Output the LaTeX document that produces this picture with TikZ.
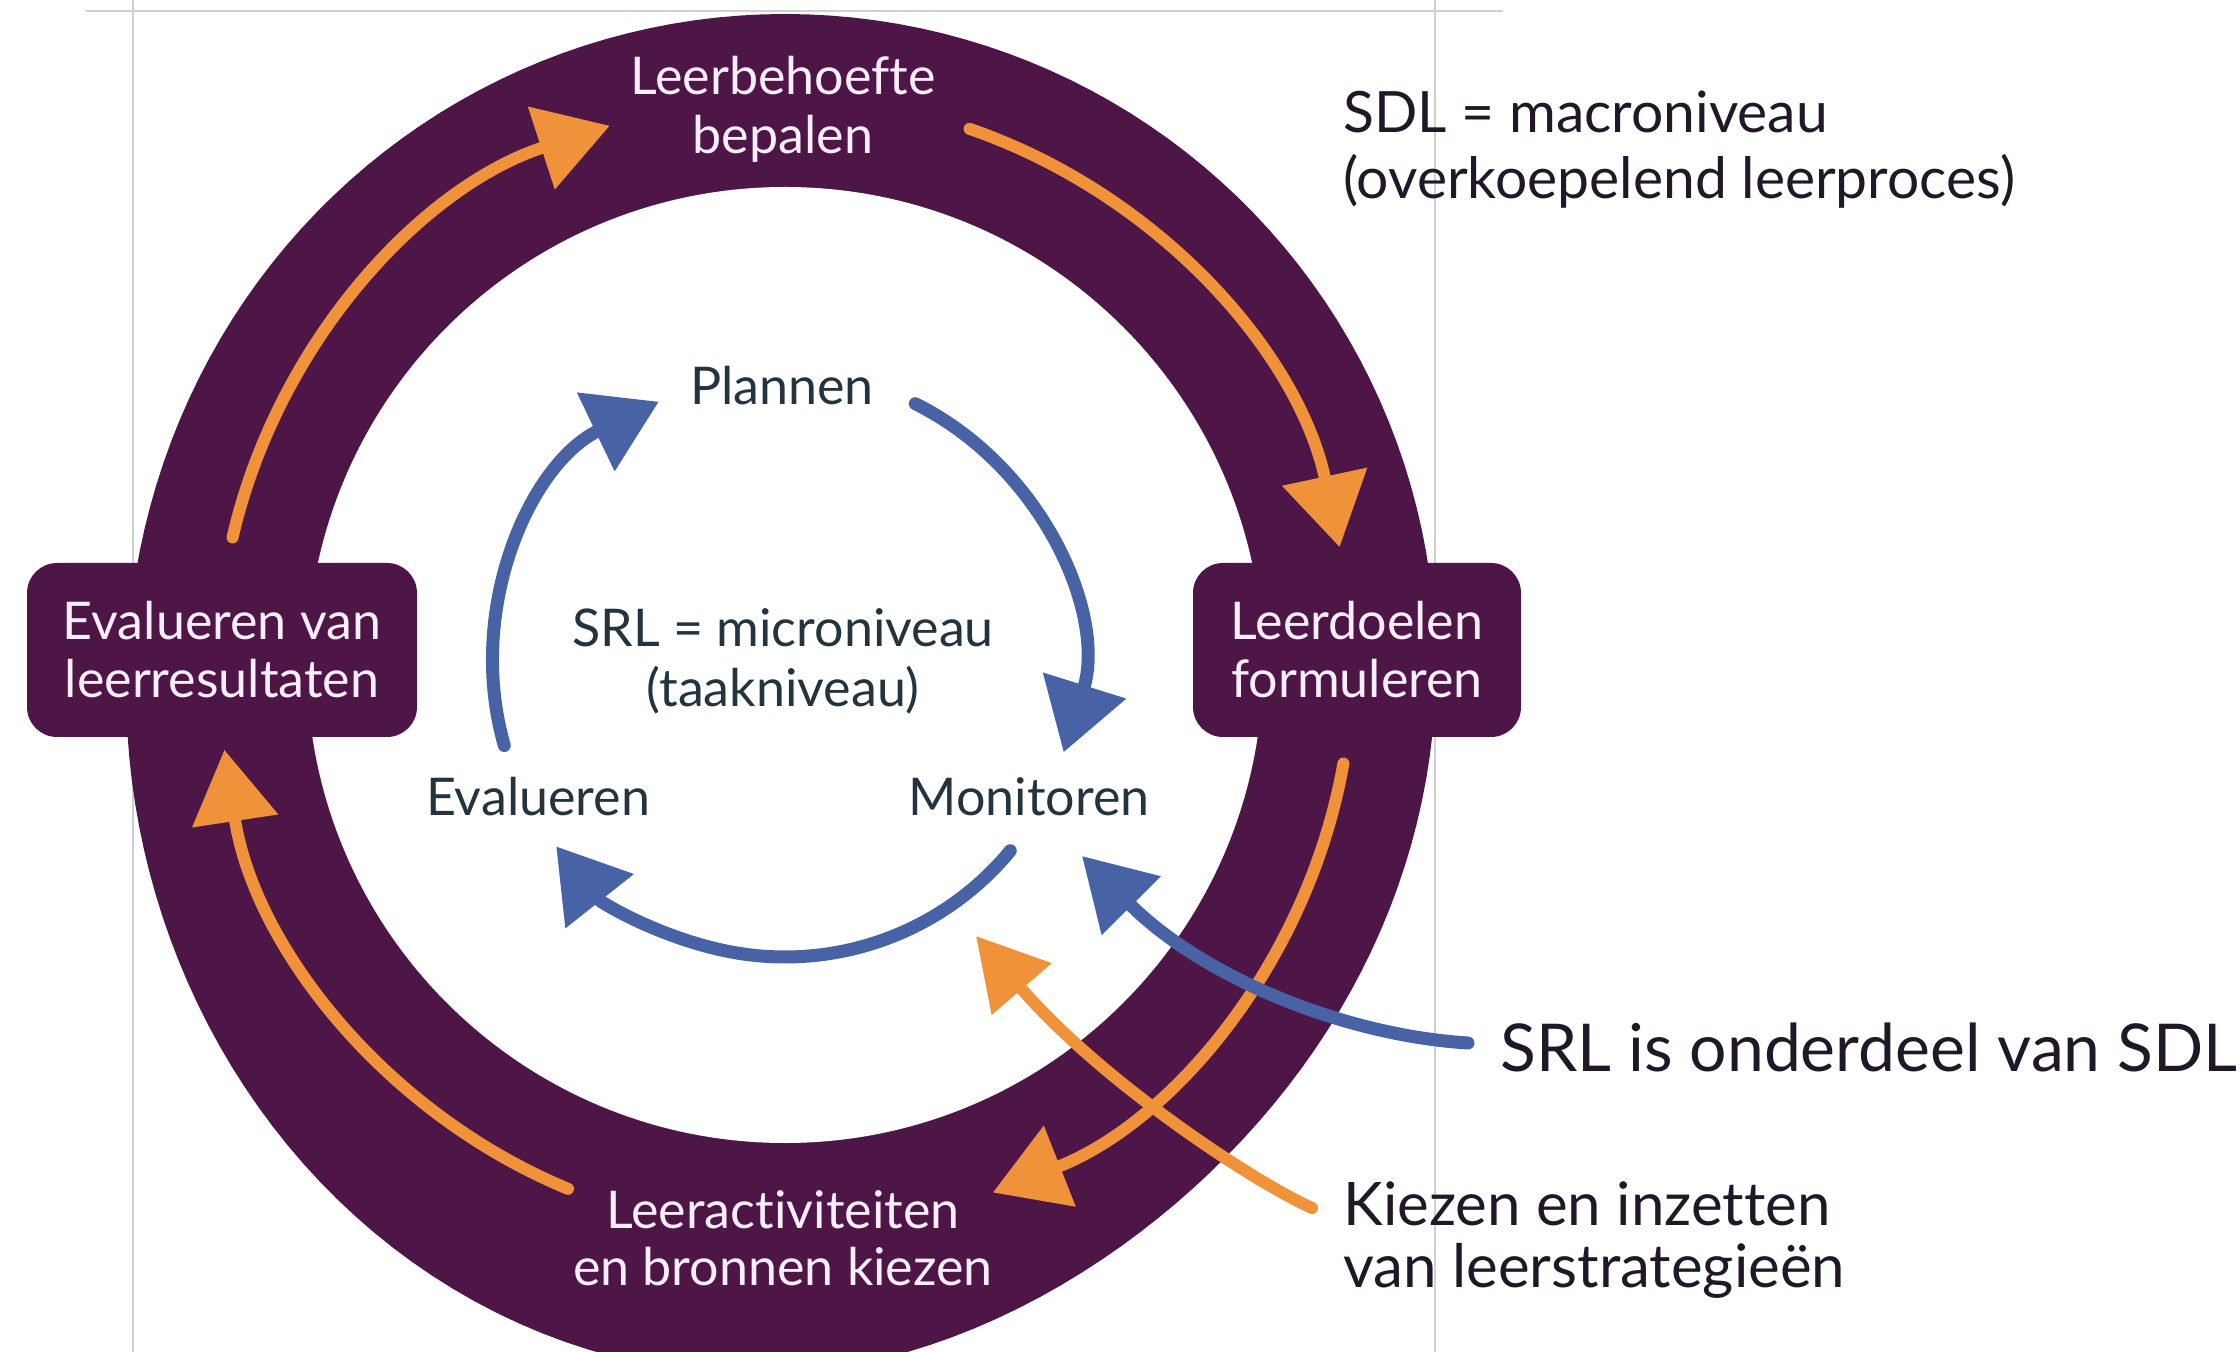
\documentclass[tikz,border=0pt]{standalone}
\usepackage{fontspec}
\setmainfont{Lato}[Ligatures={NoCommon}]
\usetikzlibrary{arrows.meta}
\definecolor{ringpurple}{RGB}{78,22,70}
\definecolor{arrorange}{RGB}{240,146,58}
\definecolor{arrblue}{RGB}{72,98,166}
\definecolor{innertext}{RGB}{36,52,62}
\definecolor{sidetext}{RGB}{32,24,38}
\definecolor{wtext}{RGB}{252,238,250}
\definecolor{faint}{RGB}{208,208,208}
\begin{document}
\begin{tikzpicture}[x=0.5pt,y=-0.5pt,
  declare function={ringu(\t)=(\t-100)/((\t<100)?38:55); ringr(\t)=651+62*exp(-ringu(\t)*ringu(\t));},
  ringlabel/.style={text=wtext, font=\fontsize{26}{29.5}\selectfont, align=center, inner sep=0},
  innerlabel/.style={text=innertext, font=\fontsize{26}{30}\selectfont, align=center, inner sep=0},
  sidelabel/.style={text=sidetext, align=left, anchor=west, inner sep=0},
  boxshape/.style={fill=ringpurple, rounded corners=15pt, inner sep=0, text=wtext,
    font=\fontsize{26}{29}\selectfont, align=center, minimum height=87pt},
  orangearc/.style={draw=arrorange, line width=6pt, line cap=round, -{Triangle[length=36pt,width=42pt]}},
  bluearc/.style={draw=arrblue, line width=6.5pt, line cap=round, -{Triangle[length=35pt,width=42pt]}},
  faintline/.style={draw=faint, line width=1pt}
]
\useasboundingbox (0,0) rectangle (2240,1352);
\fill[white] (0,0) rectangle (2240,1352);

% faint frame lines
\draw[faintline, line width=1.3pt] (86,11) -- (1503,11);
\draw[faintline] (133,0) -- (133,1352);
\draw[faintline] (1435,0) -- (1435,1352);

\coordinate (O) at (785,665);

% outer ring
\begin{scope}
\clip (0,0) rectangle (2240,1352);
\fill[ringpurple] plot[domain=0:358, samples=180, variable=\t]
  ({785+ringr(\t)*cos(\t)}, {665+ringr(\t)*sin(\t)}) -- cycle;
\fill[white] (O) circle[radius=478];
\end{scope}

% boxes on the ring
\node[boxshape, minimum width=195pt] (lbox) at (222,650) {Evalueren van\\leerresultaten};
\node[boxshape, minimum width=164pt] (rbox) at (1357,650) {Leerdoelen\\formuleren};

% ring labels
\node[ringlabel] (need) at (783,109) {Leerbehoefte\\bepalen};
\node[ringlabel, font=\fontsize{26}{28.5}\selectfont] (act) at (783,1238) {Leeractiviteiten\\en bronnen kiezen};

% outer orange arcs
\path (O) ++(-167:567) coordinate (oa1);
\path (O) ++(-71:567) coordinate (oa2);
\path (O) ++(10:567) coordinate (oa3);
\path (O) ++(112.5:567) coordinate (oa4);
\draw[orangearc] (oa1) arc[start angle=-167, end angle=-108, radius=567];
\draw[orangearc] (oa2) arc[start angle=-71, end angle=-12, radius=567];
\draw[orangearc] (oa3) arc[start angle=10, end angle=68.5, radius=567];
\draw[orangearc] (oa4) arc[start angle=112.5, end angle=171.4, radius=567];

% inner labels
\node[innerlabel] (plan) at (782,386) {Plannen};
\node[innerlabel] (srl) at (783,661) {SRL = microniveau\\(taakniveau)};
\node[innerlabel] (evl) at (538,797) {Evalueren};
\node[innerlabel] (mon) at (1029,797) {Monitoren};

% inner blue arcs
\path (O) ++(164:292) coordinate (ib1);
\path (O) ++(-63.5:292) coordinate (ib2);
\path (O) ++(39.5:292) coordinate (ib3);
\draw[bluearc] (ib1) arc[start angle=164, end angle=244.4, radius=292];
\draw[bluearc] (ib2) arc[start angle=-63.5, end angle=17.4, radius=292];
\draw[bluearc] (ib3) arc[start angle=39.5, end angle=141.6, radius=292];

% side labels
\node[sidelabel, font=\fontsize{28.5}{33}\selectfont] (sdl) at (1343,150) {SDL = macroniveau\\(overkoepelend leerproces)};
\node[sidelabel, font=\fontsize{33}{38}\selectfont] (srlis) at (1500,1047) {SRL is onderdeel van SDL};
\node[sidelabel, font=\fontsize{30}{31}\selectfont] (kiezen) at (1343,1240) {Kiezen en inzetten\\van leerstrategieën};

% pointers
\coordinate (montip) at (1082,856);
\coordinate (kiezentip) at (976,936);
\draw[bluearc, -{Triangle[length=35pt,width=40pt]}] ([xshift=-16pt,yshift=2pt]srlis.west) .. controls (1340,1035) and (1200,975) .. (montip);
\draw[orangearc, -{Triangle[length=35pt,width=38pt]}] ([shift={(-31,-32)}]kiezen.west) .. controls (1250,1180) and (1100,1080) .. (kiezentip);
\end{tikzpicture}
\end{document}
